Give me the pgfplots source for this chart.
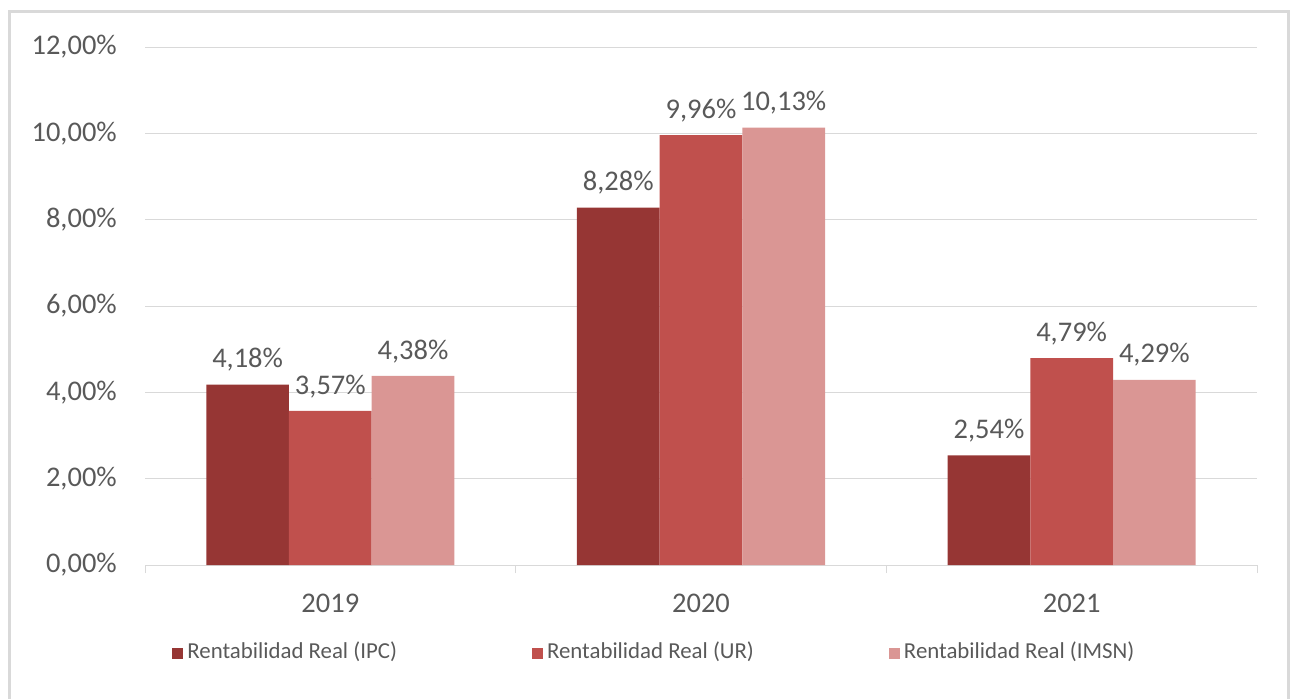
\documentclass[border=0pt]{standalone}
\usepackage{pgfplots}
\pgfplotsset{compat=1.18}
\usepackage{fontspec}
\setmainfont{Carlito}
\definecolor{ipc}{HTML}{963634}
\definecolor{ur}{HTML}{C0504D}
\definecolor{imsn}{HTML}{DA9694}
\definecolor{txt}{HTML}{595959}
\definecolor{gridc}{HTML}{D9D9D9}
\begin{document}
\begin{tikzpicture}
\useasboundingbox (-14.5mm,-13.3mm) rectangle (115.2mm,56.5mm);
\draw[gridc, line width=0.3mm] (-13.5mm,-20mm) rectangle (114.3mm,55.3mm);
\begin{axis}[
    scale only axis,
    width=111.2mm, height=51.8mm,
    ybar=0pt, bar width=8.27mm,
    xmin=-0.5, xmax=2.5, ymin=0, ymax=12,
    % category boundaries carry the tick marks, names come as extra ticks
    xtick={-0.5,0.5,1.5,2.5}, xticklabels={},
    extra x ticks={0,1,2}, extra x tick labels={2019,2020,2021},
    extra x tick style={xtick style={draw=none}},
    ytick={0,2,4,6,8,10,12},
    yticklabels={{0,00\%},{2,00\%},{4,00\%},{6,00\%},{8,00\%},{10,00\%},{12,00\%}},
    axis x line*=bottom, axis y line*=left,
    x axis line style={gridc, line width=0.1mm, -},
    y axis line style={draw=none},
    xtick style={draw=gridc, line width=0.1mm}, ytick style={draw=none},
    major tick length=0.8mm, tick align=outside,
    ymajorgrids, grid style={gridc, line width=0.1mm},
    ticklabel style={font=\fontsize{8.1}{9}\selectfont, text=txt},
    yticklabel style={anchor=east, inner sep=0pt, xshift=-1.95mm},
    xticklabel style={anchor=center, inner sep=0pt, yshift=-3.05mm},
    /pgf/number format/assume math mode=true,
    nodes near coords={\pgfmathprintnumber[fixed,fixed zerofill,precision=2,use comma]{\pgfplotspointmeta}\%},
    nodes near coords style={font=\fontsize{8.1}{9}\selectfont, text=txt, anchor=south, inner sep=0pt, yshift=1.25mm},
    legend columns=3,
    legend cell align=left,
    legend style={at={(0.459,-0.17)}, anchor=center, draw=none, fill=none,
        font=\fontsize{6.5}{8}\selectfont, text=txt, /tikz/column sep=0mm,
        /tikz/every even column/.style={column sep=13.1mm},
        nodes={inner xsep=0.4mm}},
    legend image code/.code={\fill[#1] (0mm,-0.55mm) rectangle (1.1mm,0.55mm);},
]
\addplot[draw=none, fill=ipc] coordinates {(0,4.18) (1,8.28) (2,2.54)};
\addlegendentry{Rentabilidad Real (IPC)}
\addplot[draw=none, fill=ur] coordinates {(0,3.57) (1,9.96) (2,4.79)};
\addlegendentry{Rentabilidad Real (UR)}
\addplot[draw=none, fill=imsn] coordinates {(0,4.38) (1,10.13) (2,4.29)};
\addlegendentry{Rentabilidad Real (IMSN)}
\end{axis}
\end{tikzpicture}
\end{document}
